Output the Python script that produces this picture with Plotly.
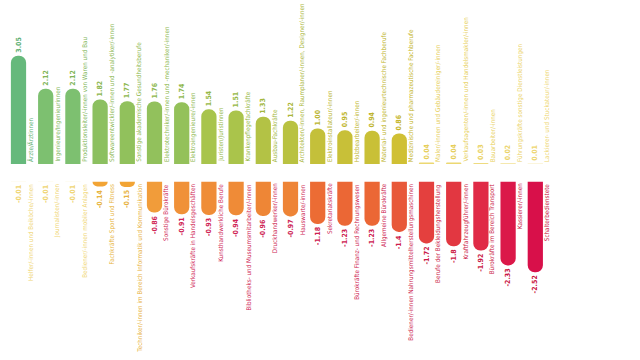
import plotly.graph_objects as go
from plotly.colors import sample_colorscale

# ---------------- data ----------------
top_labels = [
    "Ärzte/Ärztinnen",
    "Ingenieure/Ingenieurinnen",
    "Produktionsleiter/-innen von Waren und Bau",
    "Softwareentwickler/-innen und -analytiker/-innen",
    "Sonstige akademische Gesundheitsberufe",
    "Elektrotechniker/-innen und -mechaniker/-innen",
    "Elektroingenieure/-innen",
    "Juristen/Juristinnen",
    "Krankenpflegefachkräfte",
    "Ausbau-Fachkräfte",
    "Architekten/-innen, Raumplaner/-innen, Designer/-innen",
    "Elektroinstallateur/-innen",
    "Holzbearbeiter/-innen",
    "Material- und ingenieurtechnische Fachberufe",
    "Medizinische und pharmazeutische Fachberufe",
    "Maler/-innen und Gebäudereiniger/-innen",
    "Verkaufsagenten/-innen und Handelsmakler/-innen",
    "Bauarbeiter/-innen",
    "Führungskräfte sonstige Dienstleistungen",
    "Lackierer- und Stuckateur/-innen",
]
top_values = [3.05, 2.12, 2.12, 1.82, 1.77, 1.76, 1.74, 1.54, 1.51, 1.33,
              1.22, 1.00, 0.95, 0.94, 0.86, 0.04, 0.04, 0.03, 0.02, 0.01]

bottom_labels = [
    "Helfer/-innen und Beiköche/-innen",
    "Journalisten/-innen",
    "Bediener/-innen mobiler Anlagen",
    "Fachkräfte Sport und Fitness",
    "Techniker/-innen im Bereich Informatik und Kommunikation",
    "Sonstige Bürokräfte",
    "Verkaufskräfte in Handelsgeschäften",
    "Kunsthandwerkliche Berufe",
    "Bibliotheks- und Museumsmitarbeiter/-innen",
    "Druckhandwerker/-innen",
    "Hauswarte/-innen",
    "Sekretariatskräfte",
    "Bürokräfte Finanz- und Rechnungswesen",
    "Allgemeine Bürokräfte",
    "Bediener/-innen Nahrungsmittelherstellungsmaschinen",
    "Berufe der Bekleidungsherstellung",
    "Kraftfahrzeugführer/-innen",
    "Bürokräfte im Bereich Transport",
    "Kassierer/-innen",
    "Schalterbedienstete",
]
bottom_values = [-0.01, -0.01, -0.01, -0.14, -0.15, -0.86, -0.91, -0.93, -0.94, -0.96,
                 -0.97, -1.18, -1.23, -1.23, -1.4, -1.72, -1.8, -1.92, -2.33, -2.52]

# ---------------- styles ----------------
FONT = "Liberation Sans Narrow, Arial Narrow, DejaVu Sans Condensed, sans-serif"
LABEL_SIZE = 6.3
VALUE_SIZE = 7
bar_stops = [(-2.52, "rgb(216,16,74)"), (-1.92, "rgb(224,42,70)"), (-1.72, "rgb(228,64,62)"),
             (-1.4, "rgb(232,88,56)"), (-1.18, "rgb(236,108,52)"), (-0.97, "rgb(238,132,54)"),
             (-0.86, "rgb(241,156,58)"), (-0.14, "rgb(242,164,52)"), (-0.05, "rgb(244,214,120)"),
             (0.0, "rgb(245,230,170)"), (0.05, "rgb(234,212,100)"), (0.86, "rgb(208,192,52)"),
             (1.0, "rgb(196,192,58)"), (1.54, "rgb(168,196,76)"), (1.82, "rgb(140,192,96)"),
             (2.12, "rgb(125,192,112)"), (3.05, "rgb(102,185,124)")]
text_stops = [(-2.52, "rgb(200,16,60)"), (-0.6, "rgb(208,40,90)"), (-0.3, "rgb(226,150,60)"),
              (-0.12, "rgb(232,184,64)"), (0.0, "rgb(240,216,120)"), (0.05, "rgb(228,204,80)"),
              (0.86, "rgb(196,180,40)"), (1.5, "rgb(150,184,70)"), (3.05, "rgb(96,176,116)")]

VMIN, VMAX = -2.52, 3.05

# layout numbers in page pixels (body margin removed below)
X0, STEP = 18.5, 27.2          # centre of first bar, spacing between bars
TOP_BASE, TOP_PX = 164, 35.5   # baseline of upper row, px per unit
BOT_BASE, BOT_PX = 181.5, 36   # baseline of lower row, px per unit
W, H = 640, 360


def make_scale(stops):
    return [[(v - VMIN) / (VMAX - VMIN), c] for v, c in stops]


bar_scale = make_scale(bar_stops)
text_scale = make_scale(text_stops)


def colors_for(values, scale):
    return sample_colorscale(scale, [(v - VMIN) / (VMAX - VMIN) for v in values])


top_x = list(range(len(top_values)))
bottom_x = list(range(len(bottom_values)))

top_bar_c = colors_for(top_values, bar_scale)
bottom_bar_c = colors_for(bottom_values, bar_scale)
top_text_c = colors_for(top_values, text_scale)
bottom_text_c = colors_for(bottom_values, text_scale)

fig = go.Figure()
fig.add_trace(go.Bar(
    x=top_x, y=top_values, xaxis="x", yaxis="y",
    marker=dict(color=top_bar_c, line=dict(width=0)),
    width=0.56,
    text=[f"{v:.2f}" for v in top_values], textposition="outside", textangle=-90,
    textfont=dict(family=FONT, size=VALUE_SIZE, color=top_text_c, weight="bold"),
    constraintext="none", cliponaxis=False, hoverinfo="skip",
))
fig.add_trace(go.Bar(
    x=bottom_x, y=bottom_values, xaxis="x", yaxis="y2",
    marker=dict(color=bottom_bar_c, line=dict(width=0)),
    width=0.56,
    text=[str(v) for v in bottom_values], textposition="outside", textangle=-90,
    textfont=dict(family=FONT, size=VALUE_SIZE, color=bottom_text_c, weight="bold"),
    constraintext="none", cliponaxis=False, hoverinfo="skip",
))

annotations = []
for i, (lab, c) in enumerate(zip(top_labels, top_text_c)):
    annotations.append(dict(x=i + 0.42, y=0, xref="x", yref="y", text=lab, textangle=-90,
                            showarrow=False, xanchor="center", yanchor="bottom",
                            font=dict(family=FONT, size=LABEL_SIZE, color=c)))
for i, (lab, c) in enumerate(zip(bottom_labels, bottom_text_c)):
    annotations.append(dict(x=i + 0.42, y=0, xref="x", yref="y2", text=lab, textangle=-90,
                            showarrow=False, xanchor="center", yanchor="top",
                            font=dict(family=FONT, size=LABEL_SIZE, color=c)))

fig.update_layout(
    width=W, height=H,
    margin=dict(l=0, r=0, t=0, b=0, pad=0),
    paper_bgcolor="white", plot_bgcolor="white",
    showlegend=False, barcornerradius=7, hovermode=False,
    xaxis=dict(range=[-X0 / STEP, (W - X0) / STEP], visible=False, anchor="y"),
    yaxis=dict(domain=[1 - TOP_BASE / H, 1], range=[0, TOP_BASE / TOP_PX], visible=False),
    yaxis2=dict(domain=[0, 1 - BOT_BASE / H], range=[-(H - BOT_BASE) / BOT_PX, 0],
                visible=False, anchor="x"),
    annotations=annotations,
)

fig.write_html(
    "out.html",
    config={"displayModeBar": False, "staticPlot": True},
    post_script="document.body.style.margin='0';document.body.style.overflow='hidden';",
)
